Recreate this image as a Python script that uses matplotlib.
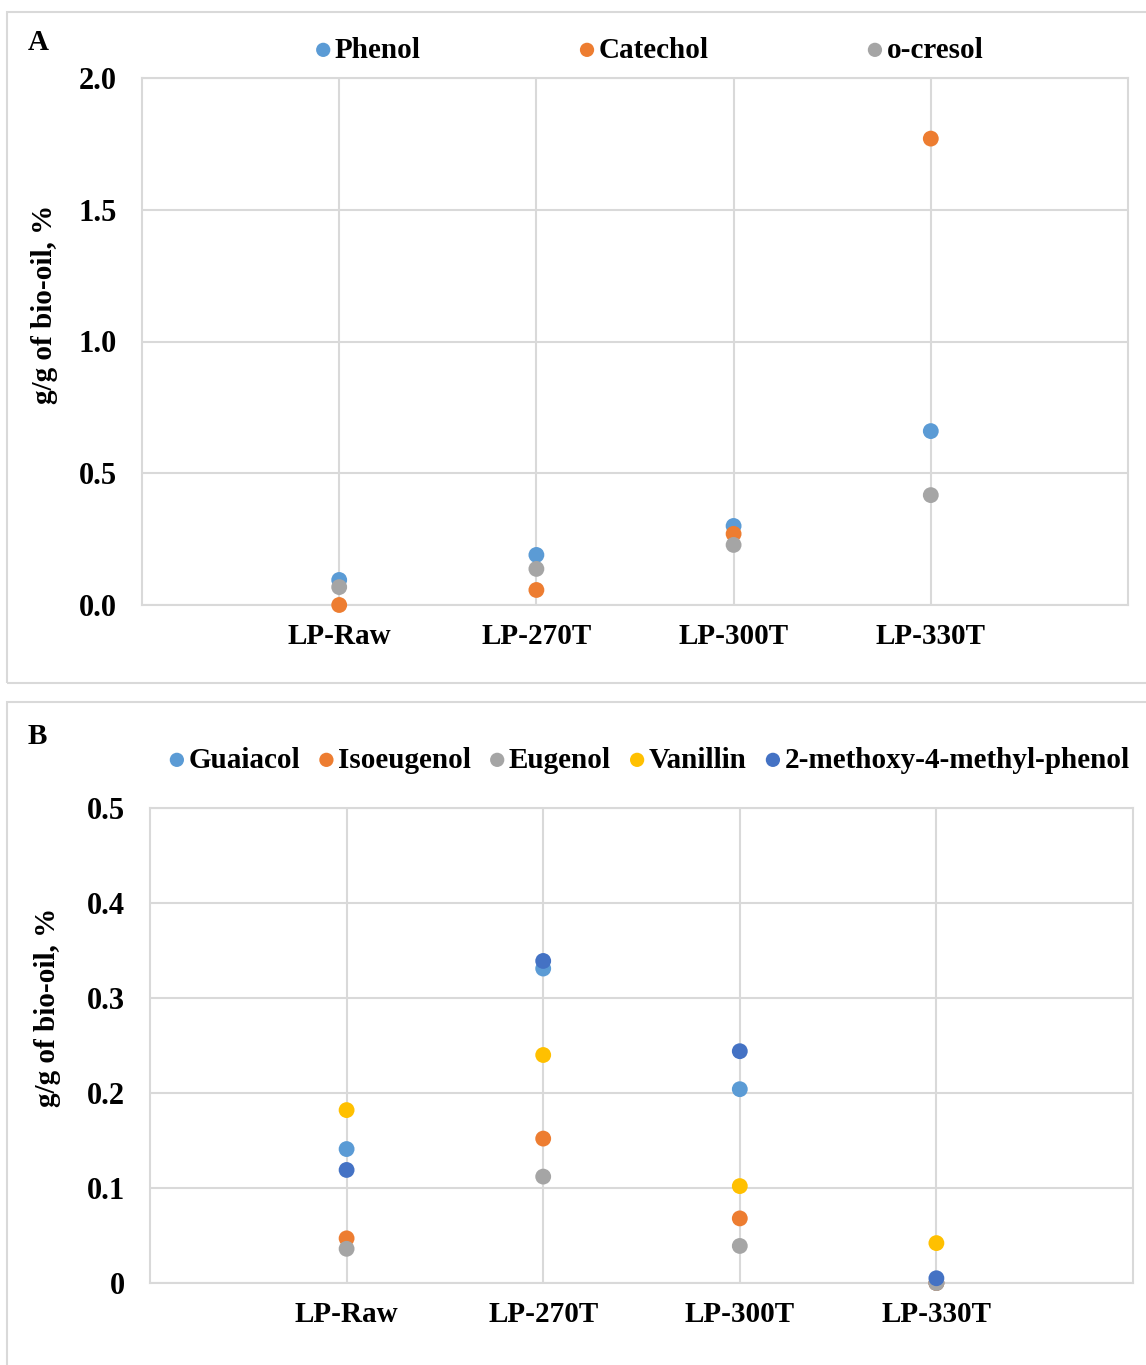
import numpy as np
import matplotlib.pyplot as plt
from matplotlib.patches import Rectangle

# ── DATA ─────────────────────────────────────────────
categories = ["LP-Raw", "LP-270T", "LP-300T", "LP-330T"]

# panel A
phenol   = [0.095, 0.19, 0.30, 0.66]
catechol = [0.0, 0.057, 0.27, 1.77]
o_cresol = [0.068, 0.137, 0.228, 0.417]

# panel B
guaiacol   = [0.141, 0.331, 0.204, 0.0]
isoeugenol = [0.047, 0.152, 0.068, 0.0]
eugenol    = [0.036, 0.112, 0.039, 0.0]
vanillin   = [0.182, 0.240, 0.102, 0.042]
methoxy    = [0.119, 0.339, 0.244, 0.005]

a_ticks = [0.0, 0.5, 1.0, 1.5, 2.0]
a_ticklabels = ["0.0", "0.5", "1.0", "1.5", "2.0"]
b_ticks = [0.0, 0.1, 0.2, 0.3, 0.4, 0.5]
b_ticklabels = ["0", "0.1", "0.2", "0.3", "0.4", "0.5"]

# ── STYLE ────────────────────────────────────────────
plt.rcParams["font.family"] = ["Liberation Serif", "DejaVu Serif"]
plt.rcParams["font.weight"] = "bold"

BLUE   = "#5B9BD5"
ORANGE = "#ED7D31"
GRAY   = "#A5A5A5"
YELLOW = "#FFC000"
DBLUE  = "#4472C4"
GRID   = "#d9d9d9"
FS     = 21

W, H = 1146, 1365
fig = plt.figure(figsize=(W / 100, H / 100), dpi=100)

# panel frames
fig.patches.append(Rectangle((7 / W, 1 - 683 / H), 1.2, (683 - 12) / H,
                             transform=fig.transFigure, fill=False,
                             edgecolor=GRID, lw=1.5))
fig.patches.append(Rectangle((7 / W, 1 - 1380 / H), 1.2, (1380 - 702) / H,
                             transform=fig.transFigure, fill=False,
                             edgecolor=GRID, lw=1.5))


def setup(ax, ticks, labels, top):
    x = np.arange(1, len(categories) + 1)
    ax.set_xlim(0, 5)
    ax.set_ylim(0, top)
    ax.set_xticks(x)
    ax.set_xticklabels(categories, fontsize=FS, fontweight="bold")
    ax.set_yticks(ticks)
    ax.set_yticklabels(labels, fontsize=FS + 1, fontweight="bold")
    ax.tick_params(length=0)
    ax.tick_params(axis="y", pad=18)
    ax.tick_params(axis="x", pad=13)
    for xv in x:
        ax.axvline(xv, color=GRID, lw=1.5, zorder=0)
    for yv in ticks:
        ax.axhline(yv, color=GRID, lw=1.5, zorder=0)
    for s in ax.spines.values():
        s.set_color(GRID)
        s.set_linewidth(1.5)
    ax.set_ylabel("g/g of bio-oil, %", fontsize=FS, fontweight="bold")
    return x


# ── PANEL A ──────────────────────────────────────────
axA = fig.add_axes([142 / W, 1 - 605 / H, (1128 - 142) / W, (605 - 78) / H])
x = setup(axA, a_ticks, a_ticklabels, 2.0)
axA.yaxis.set_label_coords(-0.085, 0.57)
for vals, col, lab in [(phenol, BLUE, "Phenol"), (catechol, ORANGE, "Catechol"),
                       (o_cresol, GRAY, "o-cresol")]:
    axA.scatter(x, vals, s=130, color=col, label=lab, zorder=3, clip_on=False,
                edgecolors="none")
legA = fig.legend(*axA.get_legend_handles_labels(), loc="center",
                  bbox_to_anchor=(646 / W, 1 - 50 / H), ncol=3, frameon=False,
                  prop={"size": FS, "weight": "bold"}, handletextpad=-0.1,
                  columnspacing=5.2, markerscale=0.9, handlelength=1.0)
fig.text(38 / W, 1 - 43 / H, "A", fontsize=FS, fontweight="bold",
         ha="center", va="center")

# ── PANEL B ──────────────────────────────────────────
axB = fig.add_axes([150 / W, 1 - 1283 / H, (1133 - 150) / W, (1283 - 808) / H])
x = setup(axB, b_ticks, b_ticklabels, 0.5)
axB.yaxis.set_label_coords(-0.091, 0.58)
for vals, col, lab in [(guaiacol, BLUE, "Guaiacol"), (isoeugenol, ORANGE, "Isoeugenol"),
                       (eugenol, GRAY, "Eugenol"), (vanillin, YELLOW, "Vanillin"),
                       (methoxy, DBLUE, "2-methoxy-4-methyl-phenol")]:
    axB.scatter(x, vals, s=130, color=col, label=lab, zorder=3, clip_on=False,
                edgecolors="none")
legB = fig.legend(*axB.get_legend_handles_labels(), loc="center",
                  bbox_to_anchor=(646 / W, 1 - 760 / H), ncol=5, frameon=False,
                  prop={"size": FS, "weight": "bold"}, handletextpad=-0.1,
                  columnspacing=0.4, markerscale=0.9, handlelength=1.0)
fig.text(37 / W, 1 - 736 / H, "B", fontsize=FS, fontweight="bold",
         ha="center", va="center")

fig.savefig("out.png", dpi=100)
